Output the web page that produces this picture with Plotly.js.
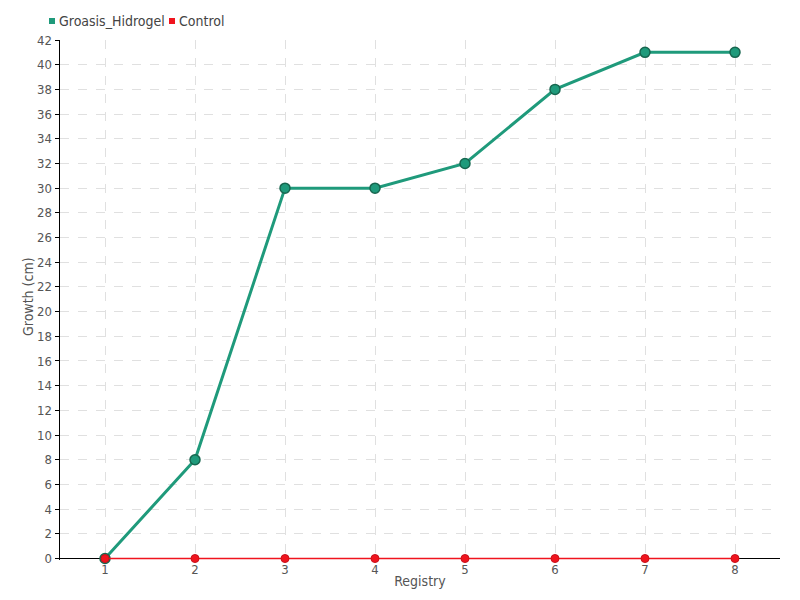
<!DOCTYPE html>
<html>
<head>
<meta charset="utf-8">
<script src="https://cdn.plot.ly/plotly-3.0.1.min.js"></script>
<style>html,body{margin:0;padding:0;background:#fff;}#chart{width:800px;height:600px;}</style>
</head>
<body>
<div id="chart"></div>
<script>
const registry = [1, 2, 3, 4, 5, 6, 7, 8];
const groasisHidrogel = [0, 8, 30, 30, 32, 38, 41, 41];
const control = [0, 0, 0, 0, 0, 0, 0, 0];
const yTicks = [0,2,4,6,8,10,12,14,16,18,20,22,24,26,28,30,32,34,36,38,40,42];
const seriesNames = ["Groasis_Hidrogel", "Control"];

const FONT = "DejaVu Sans Condensed, Liberation Sans Narrow, sans-serif";
const green = "#1f9a7b";
const red = "#f0141e";
const colors = [green, red];

const traces = [
  {x: registry, y: groasisHidrogel, mode: "lines+markers", name: seriesNames[0], cliponaxis: false,
   line: {color: green, width: 3}, marker: {color: green, size: 10, line: {color: "#17664f", width: 1.5}}},
  {x: registry, y: control, mode: "lines+markers", name: seriesNames[1], cliponaxis: false,
   line: {color: red, width: 1.5}, marker: {color: red, size: 8, line: {color: "#c8101a", width: 1}}}
];

// pixel helpers for legend placement (margins l=60, t=40, plot 720x520)
const px = p => (p - 60) / 720;
const py = p => (560 - p) / 520;
const legendX = [52, 172];
const legendY = 21;

const shapes = [];
const annotations = [
  {text: "Growth (cm)", xref: "paper", yref: "paper", x: px(28), y: py(297), textangle: -90, showarrow: false,
   xanchor: "center", yanchor: "middle", font: {family: FONT, size: 14, color: "#555"}}
];
seriesNames.forEach((n, i) => {
  shapes.push({type: "rect", xref: "paper", yref: "paper",
    x0: px(legendX[i] - 3), x1: px(legendX[i] + 3), y0: py(legendY + 3), y1: py(legendY - 3),
    fillcolor: colors[i], line: {width: 0}});
  annotations.push({text: n, xref: "paper", yref: "paper", x: px(legendX[i] + 5), y: py(legendY),
    xanchor: "left", yanchor: "middle", showarrow: false, font: {family: FONT, size: 14, color: "#444"}});
});

const layout = {
  width: 800, height: 600,
  margin: {l: 60, r: 20, t: 40, b: 40, autoexpand: false},
  paper_bgcolor: "#fff", plot_bgcolor: "#fff",
  font: {family: FONT, size: 13, color: "#555"},
  showlegend: false,
  xaxis: {
    range: [0.5, 8.5], tickvals: registry, ticktext: registry.map(String),
    showgrid: true, gridcolor: "#e0e0e0", griddash: "dash", gridwidth: 1,
    zeroline: false, showline: false, ticks: "", ticklen: 0,
    tickfont: {family: FONT, size: 13, color: "#555"},
    title: {text: "Registry", font: {family: FONT, size: 14, color: "#555"}, standoff: 0}
  },
  yaxis: {
    range: [-0.12, 42], tickvals: yTicks, ticktext: yTicks.map(String),
    showgrid: true, gridcolor: "#e0e0e0", griddash: "dash", gridwidth: 1,
    zeroline: true, zerolinecolor: "#000", zerolinewidth: 1.5,
    showline: true, linecolor: "#000", linewidth: 1.5,
    ticks: "outside", ticklen: 4, tickcolor: "#000",
    tickfont: {family: FONT, size: 13, color: "#555"}
  },
  shapes: shapes,
  annotations: annotations
};

Plotly.newPlot("chart", traces, layout, {displayModeBar: false, staticPlot: true});
</script>
</body>
</html>
